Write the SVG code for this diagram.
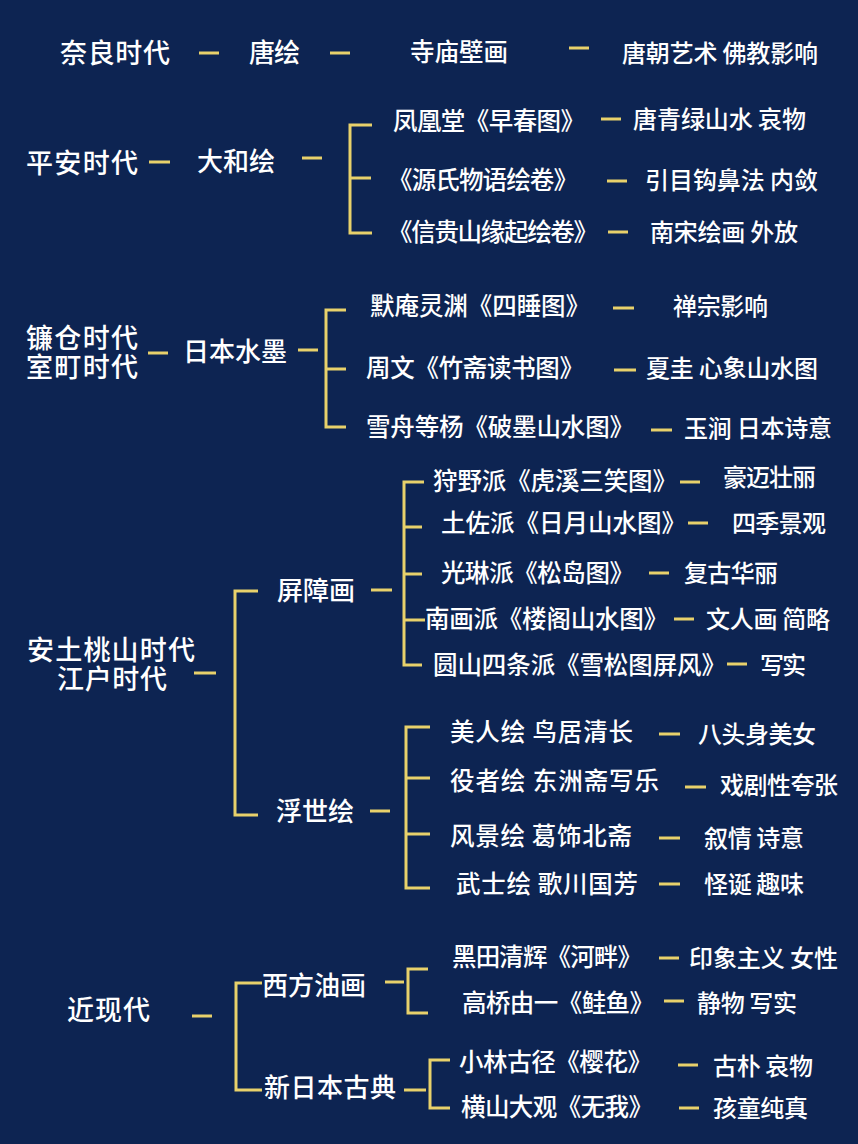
<svg xmlns="http://www.w3.org/2000/svg" width="858" height="1144" viewBox="0 0 858 1144">
<style>
text{font-family:"Noto Sans CJK SC","Noto Sans",sans-serif;fill:#ffffff;font-weight:500}
.l1{font-size:27px}
.l2{font-size:26px}
.l3{font-size:24.5px}
.l4{font-size:24px}
.c line,.c path{stroke:#e8d16b;stroke-width:3;fill:none}
</style>
<rect width="858" height="1144" fill="#0d2452"/>
<g class="c" id="connectors">
<line x1="199" y1="53" x2="219" y2="53"/>
<line x1="330" y1="53" x2="350" y2="53"/>
<line x1="569" y1="48" x2="589" y2="48"/>
<line x1="149" y1="162" x2="170" y2="162"/>
<line x1="302" y1="158" x2="322" y2="158"/>
<path d="M372 125H350V233H372M350 178H371"/>
<line x1="601" y1="119" x2="621" y2="119"/>
<line x1="607" y1="181" x2="627" y2="181"/>
<line x1="608" y1="232" x2="628" y2="232"/>
<line x1="148" y1="353" x2="168" y2="353"/>
<line x1="298" y1="350" x2="318" y2="350"/>
<path d="M346 310H326V427H346M326 369H346"/>
<line x1="613" y1="308" x2="634" y2="308"/>
<line x1="614" y1="370" x2="636" y2="370"/>
<line x1="651" y1="430" x2="672" y2="430"/>
<line x1="194" y1="673" x2="216" y2="673"/>
<path d="M258 591H235V815H258"/>
<line x1="371" y1="590" x2="392" y2="590"/>
<path d="M424 482H404V665H422M404 527H422M404 574H422M404 620H425"/>
<line x1="680" y1="482" x2="700" y2="482"/>
<line x1="688" y1="523" x2="708" y2="523"/>
<line x1="649" y1="573" x2="669" y2="573"/>
<line x1="674" y1="619" x2="694" y2="619"/>
<line x1="727" y1="664" x2="747" y2="664"/>
<line x1="370" y1="811" x2="390" y2="811"/>
<path d="M430 727H406V888H430M406 778H430M406 834H430"/>
<line x1="659" y1="734" x2="680" y2="734"/>
<line x1="685" y1="787" x2="706" y2="787"/>
<line x1="659" y1="838" x2="680" y2="838"/>
<line x1="659" y1="884" x2="680" y2="884"/>
<line x1="192" y1="1016" x2="212" y2="1016"/>
<path d="M262 983H236V1090H262"/>
<line x1="385" y1="982" x2="404" y2="982"/>
<path d="M428 969H408V1013H428"/>
<line x1="659" y1="958" x2="679" y2="958"/>
<line x1="664" y1="1001" x2="684" y2="1001"/>
<line x1="404" y1="1090" x2="426" y2="1090"/>
<path d="M450 1060H430V1108H450"/>
<line x1="678" y1="1065" x2="698" y2="1065"/>
<line x1="679" y1="1108" x2="699" y2="1108"/>
</g>
<g id="nara">
<text class="l1" x="60" y="63" textLength="110">奈良时代</text>
<text class="l2" x="249" y="62" textLength="51">唐绘</text>
<text class="l3" x="410" y="61" textLength="98">寺庙壁画</text>
<text class="l4" x="622" y="62" textLength="196">唐朝艺术 佛教影响</text>
</g>
<g id="heian">
<text class="l1" x="26" y="173" textLength="112">平安时代</text>
<text class="l2" x="197" y="171" textLength="78">大和绘</text>
<text class="l3" x="393" y="130" textLength="192">凤凰堂《早春图》</text>
<text class="l4" x="633" y="128" textLength="173">唐青绿山水 哀物</text>
<text class="l3" x="388" y="189" textLength="190">《源氏物语绘卷》</text>
<text class="l4" x="645" y="189" textLength="173">引目钩鼻法 内敛</text>
<text class="l3" x="388" y="241" textLength="210">《信贵山缘起绘卷》</text>
<text class="l4" x="650" y="241" textLength="148">南宋绘画 外放</text>
</g>
<g id="kamakura">
<text class="l1"><tspan x="26" y="348" textLength="112">镰仓时代</tspan><tspan x="26" y="377" textLength="112">室町时代</tspan></text>
<text class="l2" x="183" y="361" textLength="104">日本水墨</text>
<text class="l3" x="370" y="315" textLength="220">默庵灵渊《四睡图》</text>
<text class="l4" x="673" y="315" textLength="95">禅宗影响</text>
<text class="l3" x="366" y="377" textLength="218">周文《竹斋读书图》</text>
<text class="l4" x="646" y="377" textLength="172">夏圭 心象山水图</text>
<text class="l3" x="366" y="436" textLength="268">雪舟等杨《破墨山水图》</text>
<text class="l4" x="684" y="437" textLength="148">玉涧 日本诗意</text>
</g>
<g id="edo">
<text class="l1"><tspan x="27" y="660" textLength="168">安土桃山时代</tspan><tspan x="57" y="689" textLength="110">江户时代</tspan></text>
<text class="l2" x="277" y="600" textLength="78">屏障画</text>
<text class="l3" x="433" y="490" textLength="244">狩野派《虎溪三笑图》</text>
<text class="l4" x="723" y="486" textLength="93">豪迈壮丽</text>
<text class="l3" x="441" y="532" textLength="245">土佐派《日月山水图》</text>
<text class="l4" x="732" y="532" textLength="94">四季景观</text>
<text class="l3" x="441" y="582" textLength="193">光琳派《松岛图》</text>
<text class="l4" x="684" y="582" textLength="94">复古华丽</text>
<text class="l3" x="425" y="628" textLength="243">南画派《楼阁山水图》</text>
<text class="l4" x="706" y="628" textLength="124">文人画 简略</text>
<text class="l3" x="433" y="674" textLength="293">圆山四条派《雪松图屏风》</text>
<text class="l4" x="760" y="674" textLength="46">写实</text>
<text class="l2" x="276" y="821" textLength="78">浮世绘</text>
<text class="l3" x="450" y="741" textLength="183">美人绘 鸟居清长</text>
<text class="l4" x="698" y="743" textLength="118">八头身美女</text>
<text class="l3" x="450" y="790" textLength="209">役者绘 东洲斋写乐</text>
<text class="l4" x="720" y="794" textLength="118">戏剧性夸张</text>
<text class="l3" x="450" y="845" textLength="182">风景绘 葛饰北斋</text>
<text class="l4" x="704" y="847" textLength="100">叙情 诗意</text>
<text class="l3" x="456" y="893" textLength="182">武士绘 歌川国芳</text>
<text class="l4" x="704" y="893" textLength="100">怪诞 趣味</text>
</g>
<g id="modern">
<text class="l1" x="67" y="1020" textLength="83">近现代</text>
<text class="l2" x="262" y="995" textLength="104">西方油画</text>
<text class="l3" x="452" y="966" textLength="190">黑田清辉《河畔》</text>
<text class="l4" x="689" y="967" textLength="149">印象主义 女性</text>
<text class="l3" x="462" y="1012" textLength="192">高桥由一《鲑鱼》</text>
<text class="l4" x="697" y="1012" textLength="100">静物 写实</text>
<text class="l2" x="264" y="1097" textLength="132">新日本古典</text>
<text class="l3" x="459" y="1071" textLength="193">小林古径《樱花》</text>
<text class="l4" x="713" y="1075" textLength="100">古朴 哀物</text>
<text class="l3" x="461" y="1116" textLength="192">横山大观《无我》</text>
<text class="l4" x="713" y="1117" textLength="95">孩童纯真</text>
</g>
</svg>
